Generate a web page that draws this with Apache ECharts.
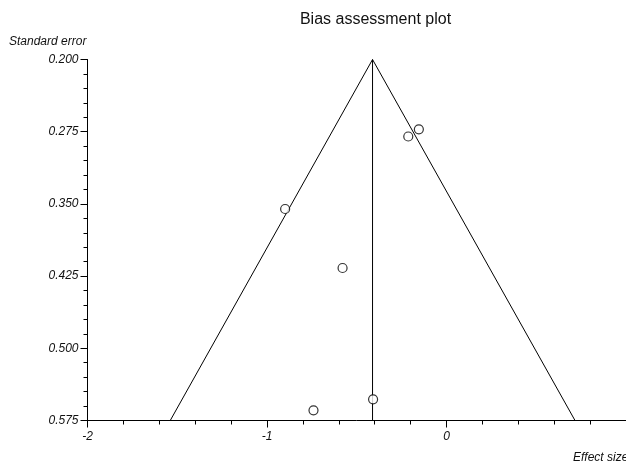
<!DOCTYPE html>
<html><head><meta charset="utf-8">
<script src="https://cdn.jsdelivr.net/npm/echarts@6/dist/echarts.min.js"></script>
<style>html,body{margin:0;padding:0;background:#fff}#c{width:626px;height:463px}</style>
</head><body><div id="c"></div>
<script>
// Study points: [effect size, standard error]
var studies = [
  [-0.213, 0.280],
  [-0.154, 0.2725],
  [-0.899, 0.3553],
  [-0.579, 0.4166],
  [-0.741, 0.5644],
  [-0.409, 0.5530]
];
// Funnel lines
var pooledLine = [[-0.412, 0.200], [-0.412, 0.575]];
var funnelLeft = [[-0.412, 0.200], [-1.539, 0.575]];
var funnelRight = [[-0.412, 0.200], [0.716, 0.575]];
// Axis ticks
var yMajorTicks = [0.200, 0.275, 0.350, 0.425, 0.500, 0.575];
var xRange = [-2, 1];
var yMinorTicks = [];
for (var i = 0; i < yMajorTicks.length - 1; i++) {
  for (var k = 1; k < 5; k++) yMinorTicks.push(yMajorTicks[i] + (yMajorTicks[i+1]-yMajorTicks[i]) * k / 5);
}

var font = 'Liberation Sans, Arial, sans-serif';
var txt = '#111';
var chart = echarts.init(document.getElementById('c'), null, {renderer: 'canvas'});
var lineStyle = {color: '#000', width: 1};
function lineSeries(d) {
  return {type: 'line', data: d, symbol: 'none', silent: true, lineStyle: lineStyle, xAxisIndex: 0, yAxisIndex: 0, z: 2};
}
chart.setOption({
  animation: false,
  backgroundColor: '#fff',
  grid: {left: 87.5, right: -3.5, top: 59.5, bottom: 42.5, containLabel: false},
  xAxis: [{
    type: 'value', min: xRange[0], max: xRange[1], interval: 1,
    axisLine: {show: true, onZero: false, lineStyle: {color: '#000', width: 1}},
    axisTick: {show: true, length: 7, inside: false, lineStyle: {color: '#000', width: 1}},
    minorTick: {show: true, splitNumber: 5, length: 4, lineStyle: {color: '#000', width: 1}},
    splitLine: {show: false},
    axisLabel: {show: true, showMaxLabel: false, fontFamily: font, fontSize: 12, fontStyle: 'italic', color: txt, margin: 10,
      formatter: function (v) { return v === 1 ? '' : String(v); }}
  }],
  yAxis: [{
    type: 'value', inverse: true, min: 0.2, max: 0.575,
    axisLine: {show: true, onZero: false, lineStyle: {color: '#000', width: 1}},
    axisTick: {show: true, length: 7, customValues: yMajorTicks, lineStyle: {color: '#000', width: 1}},
    splitLine: {show: false},
    axisLabel: {show: true, customValues: yMajorTicks, fontFamily: font, fontSize: 12, fontStyle: 'italic', color: txt, margin: 9,
      formatter: function (v) { return v.toFixed(3); }}
  }, {
    type: 'value', inverse: true, min: 0.2, max: 0.575, position: 'left',
    axisLine: {show: false, onZero: false},
    axisTick: {show: true, length: 4, customValues: yMinorTicks, lineStyle: {color: '#000', width: 1}},
    splitLine: {show: false},
    axisLabel: {show: false}
  }],
  graphic: [
    {type: 'text', x: 375.5, y: 20, style: {text: 'Bias assessment plot', font: '16px ' + font, fill: txt, textAlign: 'center', textVerticalAlign: 'middle'}},
    {type: 'text', x: 9, y: 42, style: {text: 'Standard error', font: 'italic 12px ' + font, fill: txt, textAlign: 'left', textVerticalAlign: 'middle'}},
    {type: 'text', x: 573, y: 458, style: {text: 'Effect size', font: 'italic 12px ' + font, fill: txt, textAlign: 'left', textVerticalAlign: 'middle'}}
  ],
  series: [
    lineSeries(pooledLine),
    lineSeries(funnelLeft),
    lineSeries(funnelRight),
    {type: 'scatter', data: studies, symbol: 'circle', symbolSize: 9, xAxisIndex: 0, yAxisIndex: 0, z: 3,
      itemStyle: {color: '#fff', borderColor: '#000', borderWidth: 1.2}}
  ]
});
</script></body></html>
